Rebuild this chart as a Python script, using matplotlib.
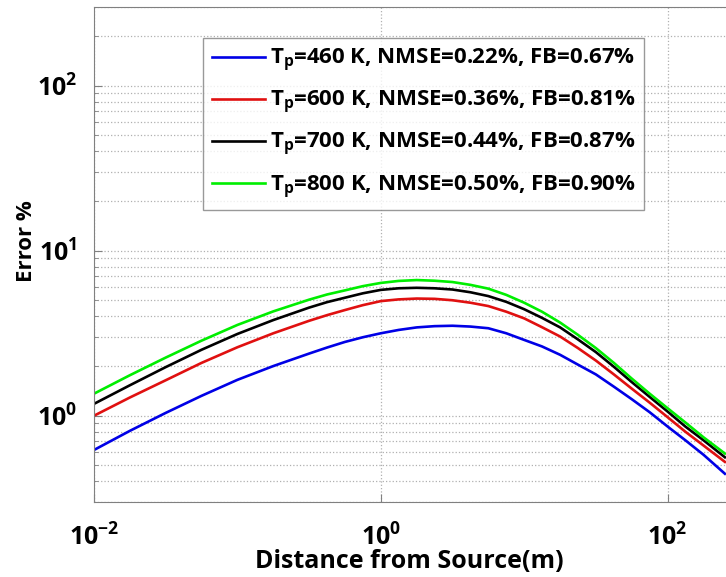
import matplotlib
matplotlib.use("Agg")
import matplotlib.pyplot as plt
from matplotlib.ticker import NullLocator, LogLocator

plt.rcParams['font.family'] = ['Open Sans', 'DejaVu Sans']
plt.rcParams['font.weight'] = 'bold'
plt.rcParams['mathtext.fontset'] = 'custom'
plt.rcParams['mathtext.rm'] = 'Open Sans:bold'
plt.rcParams['mathtext.bf'] = 'Open Sans:bold'
plt.rcParams['mathtext.it'] = 'Open Sans:bold'

# distance from source (m)
dist = [0.01, 0.0178, 0.0316, 0.0562, 0.1, 0.178, 0.316, 0.422, 0.562, 0.750,
        1.0, 1.33, 1.78, 2.37, 3.16, 4.22, 5.62, 7.50, 10.0, 13.3,
        17.8, 23.7, 31.6, 42.2, 56.2, 75.0, 100.0, 133.0, 178.0, 251.0]

# error % for each particle temperature
err_460 = [0.62, 0.81, 1.04, 1.32, 1.65, 2.00, 2.38, 2.59, 2.80, 2.99,
           3.16, 3.31, 3.43, 3.49, 3.51, 3.47, 3.39, 3.16, 2.88, 2.63,
           2.34, 2.04, 1.78, 1.50, 1.26, 1.05, 0.86, 0.71, 0.58, 0.445]
err_600 = [1.00, 1.29, 1.64, 2.09, 2.60, 3.16, 3.76, 4.07, 4.37, 4.68,
           4.95, 5.07, 5.13, 5.11, 5.01, 4.84, 4.62, 4.27, 3.89, 3.44,
           3.02, 2.57, 2.16, 1.78, 1.46, 1.20, 0.98, 0.80, 0.66, 0.525]
err_700 = [1.18, 1.53, 1.97, 2.51, 3.13, 3.80, 4.52, 4.88, 5.19, 5.52,
           5.79, 5.92, 5.96, 5.92, 5.82, 5.60, 5.31, 4.90, 4.42, 3.92,
           3.43, 2.90, 2.43, 1.98, 1.60, 1.30, 1.06, 0.86, 0.71, 0.56]
err_800 = [1.36, 1.76, 2.25, 2.85, 3.55, 4.29, 5.05, 5.43, 5.75, 6.10,
           6.38, 6.56, 6.64, 6.58, 6.46, 6.21, 5.89, 5.40, 4.84, 4.27,
           3.67, 3.09, 2.57, 2.09, 1.68, 1.36, 1.11, 0.91, 0.74, 0.59]

labels = [r'T$_\mathbf{p}$=460 K, NMSE=0.22%, FB=0.67%',
          r'T$_\mathbf{p}$=600 K, NMSE=0.36%, FB=0.81%',
          r'T$_\mathbf{p}$=700 K, NMSE=0.44%, FB=0.87%',
          r'T$_\mathbf{p}$=800 K, NMSE=0.50%, FB=0.90%']
colors = ['#0000e6', '#e01010', '#000000', '#00ee00']

fig = plt.figure(figsize=(7.26, 5.77), dpi=100)
ax = fig.add_axes([94/726, 75/577, 717/726, 495/577])

for y, c, lab in zip([err_460, err_600, err_700, err_800], colors, labels):
    ax.plot(dist, y, color=c, lw=1.9, label=lab)

ax.set_xscale('log')
ax.set_yscale('log')
ax.set_xlim(0.01, 1000)
ax.set_ylim(0.3, 300)

ax.set_xticks([0.01, 1, 100])
ax.set_xticklabels([r'$\mathbf{10^{-2}}$', r'$\mathbf{10^{0}}$', r'$\mathbf{10^{2}}$'])
ax.xaxis.set_minor_locator(NullLocator())
ax.set_yticks([1, 10, 100])
ax.set_yticklabels([r'$\mathbf{10^{0}}$', r'$\mathbf{10^{1}}$', r'$\mathbf{10^{2}}$'])
ax.yaxis.set_minor_locator(LogLocator(base=10, subs=range(2, 10)))
ax.tick_params(which='both', direction='in', colors='#808080', labelcolor='black',
               labelsize=18)
ax.tick_params(which='major', length=6)
ax.tick_params(which='minor', length=3)
ax.tick_params(axis='x', pad=16)
ax.tick_params(axis='y', pad=12)

ax.grid(True, which='major', axis='both', ls=':', lw=0.9, color='#b0b0b0')
ax.grid(True, which='minor', axis='y', ls=':', lw=0.9, color='#b0b0b0')

for s in ax.spines.values():
    s.set_color('#808080')

ax.set_xlabel('Distance from Source(m)', fontsize=18, fontweight='bold')
ax.set_ylabel('Error %', fontsize=16, fontweight='bold')
ax.xaxis.set_label_coords(0.44, -0.095)
ax.yaxis.set_label_coords(-0.08, 0.527)

leg = ax.legend(loc='upper left', bbox_to_anchor=(109/717, 1 - 31/495), fontsize=16,
                frameon=True, fancybox=False, edgecolor='#808080', handlelength=2.4,
                handletextpad=0.2, labelspacing=0.68, borderpad=0.4, borderaxespad=0)
leg.get_frame().set_linewidth(1.0)

fig.savefig('out.png', dpi=100)
